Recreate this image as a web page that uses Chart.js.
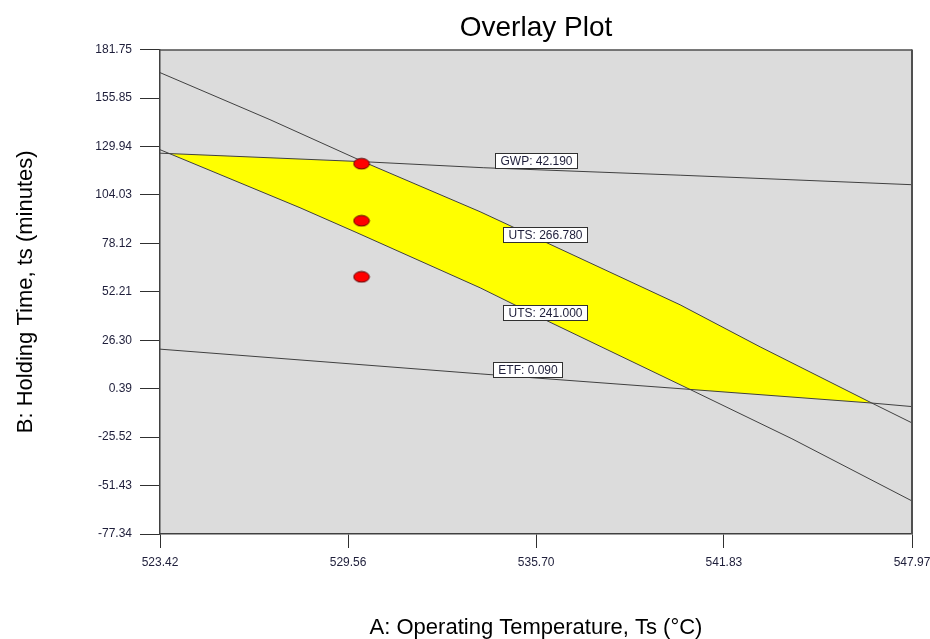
<!DOCTYPE html>
<html>
<head>
<meta charset="utf-8">
<title>Overlay Plot</title>
<script src="https://cdn.jsdelivr.net/npm/chart.js@4.4.1/dist/chart.umd.min.js"></script>
<style>
html,body{margin:0;padding:0;background:#ffffff;}
#wrap{width:930px;height:639px;position:relative;}
</style>
</head>
<body>
<div id="wrap"><canvas id="c" width="930" height="639"></canvas></div>
<script>
// ---------- data ----------
const xTicks = [523.42, 529.56, 535.70, 541.83, 547.97];
const xTickLabels = ['523.42', '529.56', '535.70', '541.83', '547.97'];
const yTicks = [181.75, 155.85, 129.94, 104.03, 78.12, 52.21, 26.30, 0.39, -25.52, -51.43, -77.34];
const yTickLabels = ['181.75', '155.85', '129.94', '104.03', '78.12', '52.21', '26.30', '0.39', '-25.52', '-51.43', '-77.34'];

// contour UTS = 266.780
const utsHighX = [523.42, 527.01, 530.05, 533.87, 540.40, 543.01, 546.66, 547.97];
const utsHighY = [169.44, 144.28, 121.80, 95.03, 45.25, 22.77, -7.30, -17.92];
// contour UTS = 241.000
const utsLowX = [523.42, 527.99, 529.85, 533.87, 535.99, 540.72, 544.05, 547.97];
const utsLowY = [128.22, 97.17, 83.79, 54.35, 37.22, 0.00, -26.40, -59.67];
// contour GWP = 42.190
const gwpX = [523.42, 530.05, 533.97, 540.40, 547.97];
const gwpY = [126.35, 121.80, 118.58, 114.57, 109.48];
// contour ETF = 0.090
const etfX = [523.42, 533.87, 540.72, 546.66, 547.97];
const etfY = [21.53, 8.31, 0.00, -7.30, -9.19];
// feasible (yellow) region outline
const regionX = [523.73, 530.05, 533.87, 540.40, 543.01, 546.66, 540.72, 535.99, 533.87, 529.85, 527.99, 523.73];
const regionY = [126.13, 121.80, 95.03, 45.25, 22.77, -7.30, 0.00, 37.22, 54.35, 83.79, 97.17, 126.13];
// design points
const designX = [530.0, 530.0, 530.0];
const designY = [120.7, 90.2, 60.2];
// contour labels
const contourNames = ['GWP', 'UTS', 'UTS', 'ETF'];
const contourValues = ['42.190', '266.780', '241.000', '0.090'];

// ---------- presentation ----------
const FONT = "'Liberation Sans', Arial, Helvetica, sans-serif";
const labelAnchors = [[535.68, 122.22], [535.98, 82.99], [535.98, 41.39], [535.41, 10.72]];

function pts(xs, ys) { return xs.map((x, i) => ({x: x, y: ys[i]})); }

// elliptical red marker
const marker = document.createElement('canvas');
marker.width = 18; marker.height = 13;
(function () {
  const m = marker.getContext('2d');
  m.beginPath();
  m.ellipse(9, 6.5, 7.8, 5.3, 0, 0, Math.PI * 2);
  m.fillStyle = '#ff0000';
  m.fill();
  m.lineWidth = 1;
  m.strokeStyle = '#5a0000';
  m.stroke();
})();

const plotFrame = {
  id: 'plotFrame',
  beforeDraw(chart) {
    const {ctx, chartArea: a} = chart;
    ctx.save();
    ctx.fillStyle = '#dcdcdc';
    ctx.fillRect(a.left, a.top, a.right - a.left, a.bottom - a.top);
    ctx.restore();
  },
  afterDraw(chart) {
    const {ctx, chartArea: a} = chart;
    ctx.save();
    ctx.strokeStyle = '#505050';
    ctx.lineWidth = 1.5;
    ctx.beginPath();
    ctx.moveTo(a.left, a.top + 0.5);
    ctx.lineTo(a.right, a.top + 0.5);
    ctx.stroke();
    ctx.lineWidth = 2;
    ctx.beginPath();
    ctx.moveTo(a.right, a.top);
    ctx.lineTo(a.right, a.bottom);
    ctx.stroke();
    ctx.restore();
  }
};

const contourLabels = {
  id: 'contourLabels',
  afterDatasetsDraw(chart) {
    const {ctx, scales} = chart;
    ctx.save();
    ctx.font = '12px ' + FONT;
    ctx.textAlign = 'center';
    ctx.textBaseline = 'middle';
    contourNames.forEach((name, i) => {
      const text = name + ': ' + contourValues[i];
      const cx = scales.x.getPixelForValue(labelAnchors[i][0]);
      const cy = scales.y.getPixelForValue(labelAnchors[i][1]);
      const w = ctx.measureText(text).width + 10;
      const h = 15;
      const x0 = Math.round(cx - w / 2) + 0.5;
      const y0 = Math.round(cy - h / 2) + 0.5;
      ctx.fillStyle = '#ffffff';
      ctx.fillRect(x0, y0, Math.round(w), h);
      ctx.strokeStyle = '#303030';
      ctx.lineWidth = 1;
      ctx.strokeRect(x0, y0, Math.round(w), h);
      ctx.fillStyle = '#1e1e3a';
      ctx.fillText(text, x0 + Math.round(w) / 2, y0 + h / 2 + 0.5);
    });
    ctx.restore();
  }
};

const lineStyle = {
  showLine: true, borderColor: '#404040', borderWidth: 1, pointRadius: 0,
  pointHoverRadius: 0, fill: false, tension: 0
};

Chart.defaults.font.family = FONT;

new Chart(document.getElementById('c'), {
  type: 'scatter',
  data: {
    datasets: [
      { label: 'Design points', data: pts(designX, designY), pointStyle: marker,
        pointRadius: 8, showLine: false },
      Object.assign({ label: 'GWP: 42.190', data: pts(gwpX, gwpY) }, lineStyle),
      Object.assign({ label: 'UTS: 266.780', data: pts(utsHighX, utsHighY) }, lineStyle),
      Object.assign({ label: 'UTS: 241.000', data: pts(utsLowX, utsLowY) }, lineStyle),
      Object.assign({ label: 'ETF: 0.090', data: pts(etfX, etfY) }, lineStyle),
      { label: 'Overlay region', data: pts(regionX, regionY), showLine: true,
        borderWidth: 0, borderColor: 'rgba(0,0,0,0)', backgroundColor: '#ffff00',
        fill: 'shape', pointRadius: 0, tension: 0 }
    ]
  },
  options: {
    responsive: false,
    animation: false,
    events: [],
    layout: { padding: { left: 0, right: 18, top: 0, bottom: 0 } },
    plugins: {
      legend: { display: false },
      tooltip: { enabled: false },
      filler: { drawTime: 'beforeDatasetsDraw' },
      title: {
        display: true, text: 'Overlay Plot', fullSize: false, color: '#000000',
        font: { size: 28, weight: 'normal', family: FONT, lineHeight: 1.2 },
        padding: { top: 11, bottom: 5 }
      }
    },
    scales: {
      x: {
        type: 'linear', min: 523.42, max: 547.97,
        afterBuildTicks: (s) => { s.ticks = xTicks.map(v => ({ value: v })); },
        afterFit: (s) => { s.height = 105; s.paddingRight = 0; s.paddingLeft = 0; },
        ticks: { autoSkip: false, maxRotation: 0, padding: 7, color: '#1e1e3a',
          font: { size: 12 }, callback: (v, i) => xTickLabels[i] },
        grid: { drawOnChartArea: false, drawTicks: true, tickLength: 14, color: '#303030', tickColor: '#303030' },
        border: { display: true, color: '#404040', width: 1.5 },
        title: { display: true, text: 'A: Operating Temperature, Ts (°C)', color: '#000000',
          font: { size: 22, weight: 'normal', lineHeight: 1.2 }, padding: { top: 0, bottom: -2 } }
      },
      y: {
        type: 'linear', min: -77.34, max: 181.75,
        afterBuildTicks: (s) => { s.ticks = yTicks.map(v => ({ value: v })); },
        afterFit: (s) => { s.width = 160; },
        ticks: { autoSkip: false, padding: 8, color: '#1e1e3a',
          font: { size: 12 }, callback: (v, i) => yTickLabels[i] },
        grid: { drawOnChartArea: false, drawTicks: true, tickLength: 20, color: '#303030', tickColor: '#303030' },
        border: { display: true, color: '#404040', width: 1.5 },
        title: { display: true, text: 'B: Holding Time, ts (minutes)', color: '#000000',
          font: { size: 22, weight: 'normal', lineHeight: 1.2 }, padding: { top: 13, bottom: 0 } }
      }
    }
  },
  plugins: [plotFrame, contourLabels]
});
</script>
</body>
</html>
